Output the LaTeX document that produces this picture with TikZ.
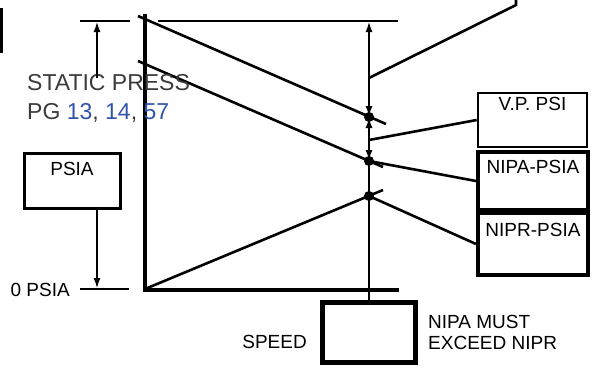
\documentclass[tikz,border=0pt]{standalone}
\usepackage{fontspec}
\setmainfont{Liberation Sans}
\usepackage{tikz}
\usetikzlibrary{arrows.meta,positioning,calc}
\definecolor{pGray}{RGB}{58,58,58}
\definecolor{pBlue}{RGB}{47,84,170}
\tikzset{
readout/.style={rectangle,draw=black,line width=2.6pt,inner sep=0pt,minimum width=110pt,font=\fontsize{19}{21}\selectfont},
heavy/.style={readout,line width=4pt},
leader/.style={draw=black,line width=2.6pt},
axis/.style={draw=black,line width=4.5pt},
dimarrow/.style={{Latex[length=11pt,width=7pt]}-{Latex[length=11pt,width=7pt]},line width=2.4pt},
tip/.style={-{Latex[length=11pt,width=7pt]},line width=2.4pt},
caption/.style={font=\fontsize{19}{21}\selectfont,inner sep=0pt,align=left}
}

\begin{document}
\begin{tikzpicture}[x=1pt,y=-1pt]
\useasboundingbox (0,0) rectangle (595,381);
% chart frame
\draw[line width=3pt] (1,8) -- (1,53);
\draw[axis] (145,14) -- (145,290) -- (399,290);
\draw[leader] (158,21) -- (398,21);
\draw[leader] (80,21) -- (130,21);
\draw[leader] (80,289) -- (129,289);
% pressure curves
\draw[leader] (138,16) -- (386,124);
\draw[leader] (138,61) -- (383,167);
\draw[leader] (145,289) -- (383,190);
\coordinate (hi) at (369,21);
\coordinate (a) at (369,117);
\coordinate (vpt) at (369,140);
\coordinate (b) at (369,161);
\coordinate (c) at (369,196);
\coordinate (vtap) at (369,78);
\coordinate (bend) at (516,5);
\coordinate (off) at (516,-2);
\coordinate (sptop) at (97,21);
\coordinate (zero) at (97,289);
% boxes
\node[heavy,line width=3pt,minimum width=96pt,text height=22pt,text depth=33pt] (psia) at (72,180.5) {PSIA};
\node[readout,minimum width=109pt,text height=17pt,text depth=37pt] (vp) at (532.5,120) {V.P. PSI};
\node[heavy,text height=21pt,text depth=37pt] (nipa) at (533,181) {NIPA-PSIA};
\node[heavy,text height=23pt,text depth=39pt] (nipr) at (533,244) {NIPR-PSIA};
\node[heavy,line width=5pt,minimum width=93pt,minimum height=60pt] (speed) at (368.5,332) {};
% labels
\node[caption,anchor=base west,font=\fontsize{23}{29}\selectfont,text=pGray] (static) at (27,119) {STATIC PRESS\\PG \textcolor{pBlue}{13}, \textcolor{pBlue}{14}, \textcolor{pBlue}{57}};
\node[caption,anchor=base east] (zerolbl) at (70,296) {0 PSIA};
\node[caption,anchor=base east] (speedlbl) at (307,348) {SPEED};
\node[caption,anchor=base west] (must) at (428,349) {NIPA MUST\\EXCEED NIPR};
% dimension arrows and leaders
\draw[tip] (97,78) -- (sptop);
\draw[tip] (psia.south -| zero) -- (zero);
\draw[dimarrow] (hi) -- (a);
\draw[dimarrow] (a) -- (b);
\draw[leader] (b) -- (b |- speed.north);
\draw[leader] (vtap) -- (bend) -- (off);
\draw[leader] (vp.west) -- (vpt);
\draw[leader] (b) -- (nipa.west);
\draw[leader] (c) -- (nipr.west);
\foreach \p in {a,b,c} \fill (\p) circle (5pt);
\end{tikzpicture}
\end{document}
